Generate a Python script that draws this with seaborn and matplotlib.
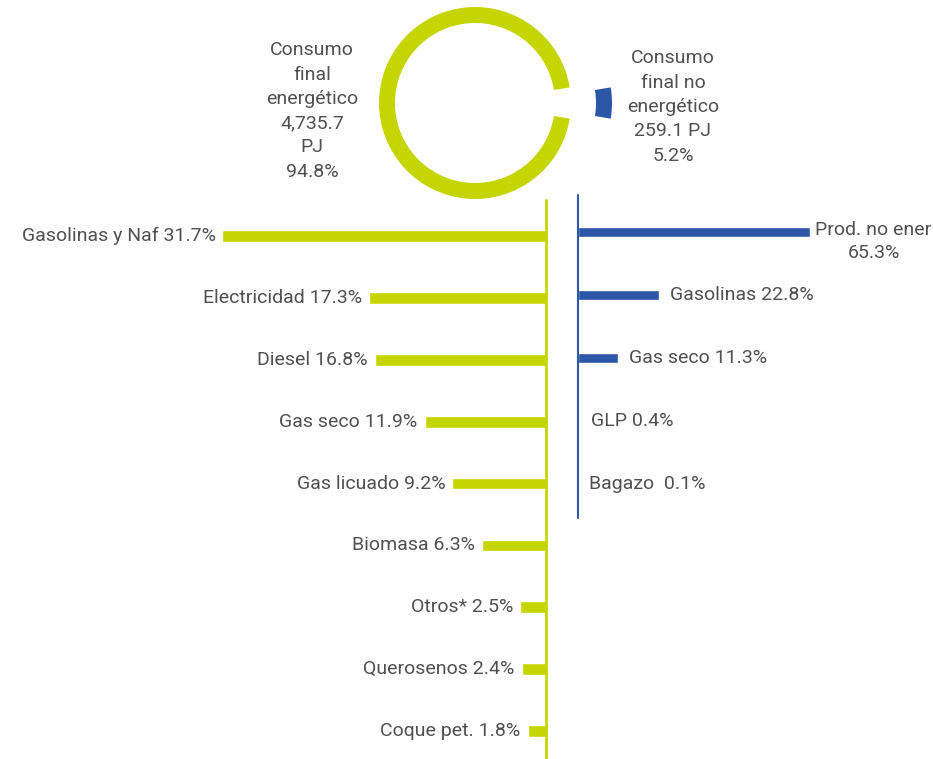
import numpy as np
import pandas as pd
import matplotlib
matplotlib.use('Agg')
import matplotlib.pyplot as plt
import seaborn as sns

sns.set_style('white')
plt.rcParams['font.family'] = ['Liberation Sans Narrow', 'Roboto', 'DejaVu Sans']

# datos
energ_names = ['Gasolinas y Naf', 'Electricidad', 'Diesel', 'Gas seco', 'Gas licuado',
               'Biomasa', 'Otros*', 'Querosenos', 'Coque pet.']
energ_vals = [31.7, 17.3, 16.8, 11.9, 9.2, 6.3, 2.5, 2.4, 1.8]

noenerg_names = ['Prod. no ener', 'Gasolinas', 'Gas seco', 'GLP', 'Bagazo ']
noenerg_vals = [65.3, 22.8, 11.3, 0.4, 0.1]

donut_vals = [5.2, 94.8]
donut_text_left = 'Consumo\nfinal\nenergético\n4,735.7\nPJ\n94.8%'
donut_text_right = 'Consumo\nfinal no\nenergético\n259.1 PJ\n5.2%'

GREEN = '#c5d500'
BLUE = '#2c56a6'
TXT = '#505050'

W, H = 933, 759
fig = plt.figure(figsize=(W / 100, H / 100), dpi=100)


def px_axes(x0, y0, x1, y1):
    # caja en pixeles (origen arriba-izquierda) -> ejes de la figura
    return fig.add_axes([x0 / W, 1 - y1 / H, (x1 - x0) / W, (y1 - y0) / H])


# barras consumo energetico (izquierda)
axL = px_axes(0, 200, 546, 759)
df_e = pd.DataFrame({'name': energ_names, 'val': energ_vals})
sns.barplot(data=df_e, x='val', y='name', orient='h', color=GREEN, width=0.19,
            saturation=1, ax=axL)
axL.set_xlim(53.5, 0)
axL.set_ylim(8.45, -0.58)
axL.axis('off')
axL.axvline(0, color=GREEN, lw=2, clip_on=False)
for i, (n, v) in enumerate(zip(energ_names, energ_vals)):
    axL.annotate(f'{n} {v}%', (v, i), xytext=(-5, 0), textcoords='offset points',
                 ha='right', va='center', fontsize=14, color=TXT)

# barras consumo no energetico (derecha)
axR = px_axes(578, 195, 933, 518)
df_n = pd.DataFrame({'name': noenerg_names, 'val': noenerg_vals})
sns.barplot(data=df_n, x='val', y='name', orient='h', color=BLUE, width=0.16,
            saturation=1, ax=axR)
axR.set_xlim(0, 100)
axR.set_ylim(4.54, -0.59)
axR.axis('off')
axR.axvline(0, color=BLUE, lw=1.5, clip_on=False)
for i, (n, v) in enumerate(zip(noenerg_names, noenerg_vals)):
    if i == 0:
        axR.annotate(f'{n}\n{v}%', (v, i), xytext=(4, 8), textcoords='offset points',
                     ha='left', va='top', multialignment='center', linespacing=1.35,
                     fontsize=14, color=TXT)
    else:
        axR.annotate(f'{n} {v}%', (v, i), xytext=(8, 0), textcoords='offset points',
                     ha='left', va='center', fontsize=14, color=TXT)

# dona
axD = px_axes(345, -27, 605, 233)
axD.pie(donut_vals, colors=[BLUE, GREEN], startangle=-donut_vals[0] * 1.8,
        counterclock=True, radius=0.96, explode=[0.41, 0],
        wedgeprops=dict(width=0.16, linewidth=0))
axD.set_xlim(-1.3, 1.3)
axD.set_ylim(-1.3, 1.3)
axD.set_aspect('equal')
axD.axis('off')

fig.text(312 / W, 1 - 111 / H, donut_text_left, ha='center', va='center',
         multialignment='center', linespacing=1.45, fontsize=14, color=TXT)
fig.text(673 / W, 1 - 107 / H, donut_text_right, ha='center', va='center',
         multialignment='center', linespacing=1.45, fontsize=14, color=TXT)

fig.savefig('out.png', dpi=100, facecolor='white')
